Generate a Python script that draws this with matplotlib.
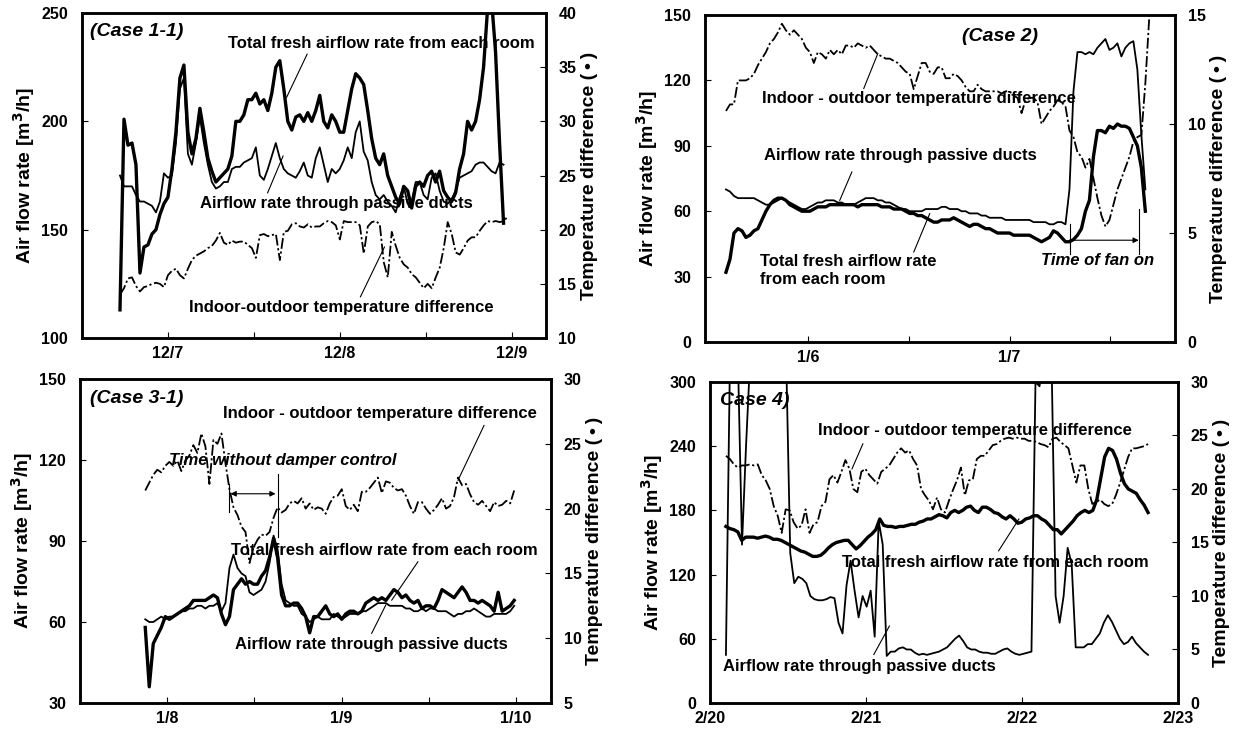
import numpy as np
import matplotlib
matplotlib.use("Agg")
import matplotlib.pyplot as plt

plt.rcParams['font.family'] = ['Liberation Sans', 'DejaVu Sans']
plt.rcParams['font.weight'] = 'bold'

# ---------------- Case 1-1 (December) ----------------
c1_t_total = (6.721, 8.953)
c1_total = [113, 201, 189, 190, 180, 130, 142, 143, 148, 150, 157, 162, 165, 178, 195, 220, 226, 195, 185, 192,
            206, 195, 183, 177, 172, 174, 176, 178, 184, 200, 200, 203, 210, 210, 213, 208, 210, 205, 213, 225,
            228, 215, 200, 196, 202, 203, 200, 204, 200, 205, 212, 200, 197, 203, 200, 195, 195, 205, 215, 222,
            220, 217, 205, 192, 183, 180, 185, 175, 170, 165, 162, 170, 168, 160, 170, 172, 170, 175, 177, 172,
            177, 168, 165, 163, 167, 178, 185, 200, 196, 200, 210, 225, 252, 256, 232, 190, 153]
c1_passive = [175, 170, 170, 170, 166, 163, 163, 162, 161, 158, 163, 176, 174, 175, 190, 215, 220, 185, 180, 190,
              202, 190, 180, 172, 169, 170, 172, 172, 178, 179, 179, 181, 182, 183, 188, 175, 173, 178, 184, 190,
              183, 178, 176, 175, 174, 177, 181, 175, 174, 183, 188, 180, 172, 178, 176, 178, 182, 188, 183, 195,
              200, 186, 182, 172, 166, 164, 166, 163, 161, 158, 165, 170, 162, 163, 172, 172, 166, 164, 174, 176,
              168, 163, 162, 164, 168, 174, 175, 176, 177, 180, 181, 181, 179, 177, 176, 181, 180]
c1_t_temp = (6.721, 8.977)
c1_temp = [14.0, 14.6, 15.5, 15.6, 14.8, 14.3, 14.7, 14.8, 15.0, 15.1, 15.0, 14.7, 15.8, 16.2, 16.4, 15.8, 15.5,
           16.4, 17.2, 17.6, 17.8, 18.0, 18.3, 18.5, 19.0, 19.7, 18.8, 18.6, 19.0, 18.8, 18.9, 18.9, 18.6, 18.3,
           17.4, 19.5, 19.6, 19.4, 19.5, 19.6, 17.2, 19.8, 19.9, 20.5, 20.6, 20.3, 20.2, 20.5, 20.2, 20.3, 20.3,
           20.6, 20.8, 20.7, 20.4, 19.1, 20.8, 20.7, 20.7, 20.7, 20.4, 17.8, 20.3, 20.7, 20.8, 20.5, 17.0, 15.6,
           19.8, 18.5, 17.4, 16.8, 16.5, 15.9, 15.6, 15.1, 14.6, 15.0, 14.6, 15.6, 16.5, 18.3, 20.7, 19.6, 17.9,
           17.7, 18.3, 19.0, 19.3, 19.3, 19.9, 20.4, 20.8, 20.7, 20.8, 20.7, 20.8, 21.2]
c1_xticks = [7, 8, 9]
c1_xlabels = ['12/7', '12/8', '12/9']

# ---------------- Case 2 (January 5-7) ----------------
c2_t_flow = (5.594, 7.673)
c2_total = [32, 38, 50, 52, 51, 48, 49, 51, 52, 56, 60, 63, 65, 66, 66, 65, 63, 62, 61, 60, 60, 60, 61, 62, 62, 62,
            63, 63, 63, 63, 63, 63, 63, 62, 63, 63, 63, 63, 63, 62, 62, 62, 61, 61, 61, 60, 59, 59, 58, 58, 57, 56,
            55, 55, 56, 56, 56, 57, 56, 55, 54, 53, 54, 54, 53, 52, 52, 51, 50, 50, 50, 50, 49, 49, 49, 49, 49, 48,
            47, 46, 47, 48, 51, 50, 48, 46, 46, 47, 49, 52, 60, 65, 85, 97, 97, 96, 99, 98, 100, 99, 99, 98, 94, 90,
            80, 60]
c2_passive = [70, 69, 67, 66, 66, 66, 66, 66, 65, 64, 63, 63, 64, 65, 66, 65, 64, 63, 62, 61, 61, 62, 63, 64, 64,
              65, 65, 65, 64, 64, 63, 63, 63, 64, 65, 66, 66, 66, 65, 65, 64, 64, 63, 62, 61, 61, 60, 60, 60, 60,
              61, 61, 61, 61, 62, 62, 61, 61, 61, 60, 60, 59, 59, 59, 58, 58, 57, 57, 57, 57, 56, 56, 56, 56, 56,
              56, 56, 55, 55, 55, 55, 54, 54, 55, 55, 54, 70, 115, 133, 133, 132, 133, 132, 135, 137, 139, 134,
              135, 137, 131, 135, 137, 138, 125, 95, 70]
c2_t_temp = (5.594, 7.693)
c2_temp = [10.6, 10.9, 10.9, 12.0, 12.0, 12.0, 12.1, 12.3, 12.7, 13.0, 13.3, 13.7, 13.9, 14.2, 14.6, 14.3, 14.1,
           14.3, 14.1, 13.9, 13.5, 13.3, 12.8, 13.3, 13.2, 13.0, 13.4, 13.2, 13.4, 13.2, 13.6, 13.6, 13.5, 13.7,
           13.6, 13.5, 13.6, 13.4, 13.2, 13.1, 13.0, 13.0, 12.9, 12.8, 12.6, 12.4, 12.3, 11.6, 12.2, 12.8, 12.8,
           12.4, 12.3, 12.6, 12.6, 12.1, 12.1, 12.3, 12.2, 12.0, 11.7, 11.5, 11.5, 11.8, 11.6, 11.5, 11.5, 11.5,
           11.5, 11.4, 11.5, 11.5, 11.3, 11.2, 10.5, 11.1, 11.2, 11.2, 11.0, 10.0, 10.3, 10.6, 10.8, 11.1, 11.0,
           10.8, 9.7, 9.4, 8.7, 8.5, 8.0, 8.4, 7.5, 6.6, 5.8, 5.3, 5.6, 6.3, 7.0, 7.5, 8.0, 8.5, 9.2, 9.4, 9.5,
           11.9, 15.0]
c2_xticks = [6, 7]
c2_xlabels = ['1/6', '1/7']
c2_fan_on = (7.297, 7.640)

# ---------------- Case 3-1 (January 8-10) ----------------
c3_t = (7.874, 9.989)
c3_total = [58, 36, 52, 55, 58, 62, 61, 62, 63, 64, 65, 66, 68, 68, 68, 68, 69, 70, 69, 63, 59, 62, 72, 74, 76,
            74, 75, 74, 74, 77, 79, 84, 91, 84, 70, 66, 66, 67, 67, 65, 62, 56, 62, 62, 64, 66, 63, 62, 63, 61,
            63, 64, 64, 63, 64, 67, 68, 69, 68, 69, 68, 70, 72, 71, 69, 70, 68, 67, 68, 65, 66, 66, 65, 68, 72,
            71, 70, 69, 71, 73, 71, 68, 68, 67, 68, 67, 66, 64, 71, 64, 65, 66, 68]
c3_passive = [61, 60, 60, 61, 62, 61, 62, 62, 63, 64, 64, 65, 65, 66, 66, 65, 66, 66, 67, 64, 67, 80, 85, 80, 78,
              77, 71, 70, 71, 72, 75, 82, 92, 87, 74, 68, 67, 66, 66, 63, 62, 60, 61, 62, 61, 61, 61, 63, 62, 61,
              62, 63, 63, 63, 64, 64, 65, 66, 67, 67, 67, 66, 66, 66, 66, 65, 65, 64, 64, 65, 64, 65, 65, 64, 64,
              64, 63, 62, 63, 63, 64, 64, 65, 64, 63, 62, 62, 63, 63, 63, 63, 64, 66]
c3_temp = [21.4, 22.0, 22.6, 23.0, 22.8, 23.3, 23.6, 23.3, 23.7, 22.9, 23.7, 24.1, 24.9, 24.3, 25.8, 24.8, 21.9,
           25.3, 25.0, 25.8, 23.5, 21.5, 20.1, 19.5, 18.6, 18.2, 15.8, 17.0, 17.6, 18.0, 17.9, 18.2, 19.3, 20.1,
           19.7, 19.9, 20.4, 20.6, 20.4, 20.8, 20.0, 20.4, 19.9, 20.1, 20.0, 19.6, 20.4, 20.9, 21.0, 21.5, 20.2,
           19.9, 20.3, 19.8, 21.3, 21.3, 21.6, 22.0, 22.4, 21.2, 22.1, 22.0, 21.6, 21.4, 21.5, 21.0, 20.2, 19.6,
           20.5, 20.5, 20.0, 19.6, 19.9, 20.3, 20.8, 20.0, 20.2, 20.9, 22.4, 21.8, 21.9, 21.1, 20.5, 20.3, 20.6,
           20.2, 19.8, 20.5, 20.2, 20.3, 20.6, 20.4, 21.4]
c3_xticks = [8, 9, 10]
c3_xlabels = ['1/8', '1/9', '1/10']
c3_no_damper = (8.356, 8.637)

# ---------------- Case 4 (February 20-23) ----------------
c4_t = (20.102, 22.808)
c4_total = [165, 163, 162, 160, 152, 155, 155, 155, 154, 155, 156, 155, 153, 153, 152, 150, 148, 146, 144, 142,
            141, 139, 137, 137, 138, 141, 145, 148, 150, 151, 152, 152, 148, 144, 147, 151, 155, 158, 162, 172,
            166, 165, 165, 164, 165, 165, 166, 167, 167, 169, 170, 172, 172, 174, 176, 175, 173, 178, 180, 178,
            180, 183, 184, 180, 178, 183, 183, 181, 178, 177, 174, 172, 175, 172, 168, 169, 172, 173, 175, 175,
            172, 170, 166, 162, 162, 158, 162, 166, 170, 175, 178, 180, 178, 180, 190, 210, 230, 238, 236, 228,
            215, 205, 200, 198, 196, 190, 185, 178]
c4_passive = [45, 320, 320, 320, 148, 240, 320, 320, 320, 320, 320, 320, 320, 320, 320, 320, 140, 112, 118, 116,
              112, 100, 97, 96, 96, 97, 99, 98, 75, 65, 110, 133, 105, 80, 100, 90, 105, 62, 170, 148, 44, 48,
              48, 51, 52, 50, 50, 47, 45, 46, 45, 46, 47, 48, 50, 52, 56, 60, 63, 58, 52, 50, 50, 48, 47, 47, 46,
              46, 48, 50, 51, 48, 46, 45, 46, 47, 48, 300, 296, 320, 320, 320, 100, 75, 100, 145, 130, 52, 52, 52,
              55, 55, 60, 65, 75, 82, 76, 68, 60, 55, 57, 62, 56, 52, 48, 45]
c4_temp = [23.1, 22.8, 22.3, 22.0, 22.2, 22.2, 22.3, 22.2, 22.3, 21.3, 20.8, 20.0, 18.4, 17.5, 15.9, 18.1, 18.0,
           16.9, 16.3, 16.6, 18.1, 15.9, 16.7, 16.9, 18.4, 18.8, 20.9, 21.3, 20.6, 21.6, 22.7, 21.9, 20.0, 19.7,
           21.6, 21.9, 21.3, 20.9, 20.5, 21.6, 21.9, 22.2, 22.8, 23.4, 23.8, 23.4, 23.6, 22.8, 22.2, 20.0, 19.4,
           18.9, 18.1, 19.2, 18.1, 17.8, 18.9, 19.9, 20.8, 22.0, 19.4, 20.8, 20.9, 22.8, 23.1, 23.1, 23.6, 24.1,
           24.2, 24.5, 24.7, 24.8, 24.7, 24.8, 24.7, 24.7, 24.5, 24.5, 24.4, 24.2, 24.1, 23.9, 24.7, 24.8, 24.4,
           24.1, 23.8, 22.2, 20.6, 22.2, 22.2, 20.0, 18.6, 18.8, 19.0, 18.6, 18.4, 18.6, 19.5, 20.6, 21.8, 23.0,
           23.8, 23.8, 23.9, 24.0, 24.2]
c4_xticks = [20, 21, 22, 23]
c4_xlabels = ['2/20', '2/21', '2/22', '2/23']

# ---------------- labels ----------------
lab_total = 'Total fresh airflow rate from each room'
lab_total2 = 'Total fresh airflow rate\nfrom each room'
lab_passive = 'Airflow rate through passive ducts'
lab_temp1 = 'Indoor-outdoor temperature difference'
lab_temp = 'Indoor - outdoor temperature difference'
ylab_l = 'Air flow rate [m$^\\mathbf{3}$/h]'
ylab_r = 'Temperature difference (\u2009\u2022\u2009)'

TICK_FS = 11.5
LAB_FS = 14
ANN_FS = 12
CASE_FS = 14
TEMP_DASH = (0, (6, 1.5, 1.2, 1.5))

fig = plt.figure(figsize=(12.52, 7.40), dpi=100)


def make_panel(rect, xlim, ylim, yticks, ylim2, yticks2, xticks, xlabels, minor_ticks):
    ax = fig.add_axes(rect)
    ax2 = ax.twinx()
    ax.set_xlim(*xlim)
    ax.set_ylim(*ylim)
    ax.set_yticks(yticks)
    ax2.set_ylim(*ylim2)
    ax2.set_yticks(yticks2)
    ax.set_xticks(xticks)
    ax.set_xticklabels(xlabels)
    ax.set_xticks(minor_ticks, minor=True)
    for a in (ax, ax2):
        for s in a.spines.values():
            s.set_linewidth(1.8)
        a.tick_params(direction='in', length=4, width=0.8, labelsize=TICK_FS)
        a.tick_params(which='minor', direction='in', length=4, width=0.8)
        for lab in a.get_xticklabels() + a.get_yticklabels():
            lab.set_fontweight('bold')
    ax.tick_params(axis='x', pad=6)
    ax.tick_params(axis='y', pad=10)
    ax2.tick_params(axis='y', pad=9)
    ax.set_ylabel(ylab_l, fontsize=LAB_FS, fontweight='bold', labelpad=3)
    ax2.set_ylabel(ylab_r, fontsize=LAB_FS, fontweight='bold', labelpad=3)
    ax.set_zorder(ax2.get_zorder() + 1)
    ax.patch.set_visible(False)
    return ax, ax2


def series(ax, trange, vals, **kw):
    t = np.linspace(trange[0], trange[1], len(vals))
    ax.plot(t, vals, color='black', **kw)


def leader(ax, p0, p1):
    ax.plot([p0[0], p1[0]], [p0[1], p1[1]], color='black', lw=0.8)


def label(ax, x, y, s, **kw):
    ax.text(x, y, s, fontsize=ANN_FS, fontweight='bold', ha='center', va='center', **kw)


def case_label(ax, x, y, s):
    ax.text(x, y, s, transform=ax.transAxes, fontsize=CASE_FS, fontweight='bold',
            style='italic', ha='left', va='top')


# ---------- Panel 1 ----------
ax, ax2 = make_panel([0.0655, 0.5432, 0.3706, 0.4392], (6.5, 9.2), (100, 250), [100, 150, 200, 250],
                     (10, 40), [10, 15, 20, 25, 30, 35, 40], c1_xticks, c1_xlabels, [7.5, 8.5])
series(ax2, c1_t_temp, c1_temp, lw=1.3, linestyle=TEMP_DASH)
series(ax, c1_t_total, c1_passive, lw=1.3)
series(ax, c1_t_total, c1_total, lw=2.4)
case_label(ax, 0.017, 0.97, '(Case 1-1)')
label(ax, 8.24, 236, lab_total)
leader(ax, (7.81, 231), (7.69, 211))
label(ax, 7.98, 162, lab_passive)
leader(ax, (7.58, 167), (7.67, 184))
label(ax, 8.01, 114, lab_temp1)
leader(ax, (8.12, 119), (8.26, 142))

# ---------- Panel 2 ----------
ax, ax2 = make_panel([0.5631, 0.5378, 0.3754, 0.4419], (5.49, 7.82), (0, 150), [0, 30, 60, 90, 120, 150],
                     (0, 15), [0, 5, 10, 15], c2_xticks, c2_xlabels, [6.5, 7.5])
series(ax2, c2_t_temp, c2_temp, lw=1.3, linestyle=TEMP_DASH)
series(ax, c2_t_flow, c2_passive, lw=1.3)
series(ax, c2_t_flow, c2_total, lw=2.4)
ax.text(6.95, 140, '(Case 2)', fontsize=CASE_FS, fontweight='bold', style='italic', ha='center', va='center')
label(ax, 6.55, 111.7, lab_temp)
leader(ax, (6.277, 116.3), (6.347, 132.4))
label(ax, 6.46, 85.7, lab_passive)
leader(ax, (6.218, 78), (6.158, 65))
ax.text(5.762, 32.9, lab_total2, fontsize=ANN_FS, fontweight='bold', ha='left', va='center', linespacing=1.2)
leader(ax, (6.525, 41.3), (6.604, 58.9))
ax.plot([c2_fan_on[0]] * 2, [40.5, 54.3], color='black', lw=0.8)
ax.plot([c2_fan_on[1]] * 2, [40.5, 61.2], color='black', lw=0.8)
ax.annotate('', xy=(c2_fan_on[1], 46.7), xytext=(c2_fan_on[0], 46.7),
            arrowprops=dict(arrowstyle='-|>', color='black', lw=0.8, mutation_scale=8, shrinkA=0, shrinkB=0))
ax.text(7.436, 37.5, 'Time of fan on', fontsize=ANN_FS, fontweight='bold', style='italic',
        ha='center', va='center')

# ---------- Panel 3 ----------
ax, ax2 = make_panel([0.0639, 0.05, 0.3762, 0.4378], (7.5, 10.2), (30, 150), [30, 60, 90, 120, 150],
                     (5, 30), [5, 10, 15, 20, 25, 30], c3_xticks, c3_xlabels, [8.5, 9.5])
series(ax2, c3_t, c3_temp, lw=1.3, linestyle=TEMP_DASH)
series(ax, c3_t, c3_passive, lw=1.3)
series(ax, c3_t, c3_total, lw=2.4)
case_label(ax, 0.021, 0.965, '(Case 3-1)')
label(ax, 9.218, 137.1, lab_temp)
leader(ax, (9.816, 132.8), (9.667, 112.5))
ax.text(8.66, 119.8, 'Time without damper control', fontsize=ANN_FS, fontweight='bold', style='italic',
        ha='center', va='center')
ax.plot([c3_no_damper[0]] * 2, [100.8, 111.2], color='black', lw=0.8)
ax.plot([c3_no_damper[1]] * 2, [91.5, 114.9], color='black', lw=0.8)
ax.annotate('', xy=(c3_no_damper[1] - 0.016, 107.5), xytext=(c3_no_damper[0] + 0.007, 107.5),
            arrowprops=dict(arrowstyle='<|-|>', color='black', lw=0.8, mutation_scale=8, shrinkA=0, shrinkB=0))
label(ax, 9.246, 86.6, lab_total)
leader(ax, (9.437, 82.3), (9.287, 68.1))
label(ax, 9.172, 51.5, lab_passive)
leader(ax, (9.172, 55.8), (9.253, 66.3))

# ---------- Panel 4 ----------
ax, ax2 = make_panel([0.5671, 0.05, 0.3738, 0.4338], (20, 23), (0, 300), [0, 60, 120, 180, 240, 300],
                     (0, 30), [0, 5, 10, 15, 20, 25, 30], c4_xticks, c4_xlabels, [])
series(ax2, c4_t, c4_temp, lw=1.3, linestyle=TEMP_DASH)
series(ax, c4_t, c4_passive, lw=1.3)
series(ax, c4_t, c4_total, lw=2.4)
case_label(ax, 0.021, 0.97, 'Case 4)')
label(ax, 21.70, 254.7, lab_temp)
leader(ax, (20.98, 242.2), (20.91, 218.75))
label(ax, 21.83, 131.25, lab_total)
leader(ax, (21.85, 142.2), (21.98, 171.9))
label(ax, 20.957, 34.4, lab_passive)
leader(ax, (21.05, 45.3), (21.15, 71.9))

fig.savefig('out.png', dpi=100)
